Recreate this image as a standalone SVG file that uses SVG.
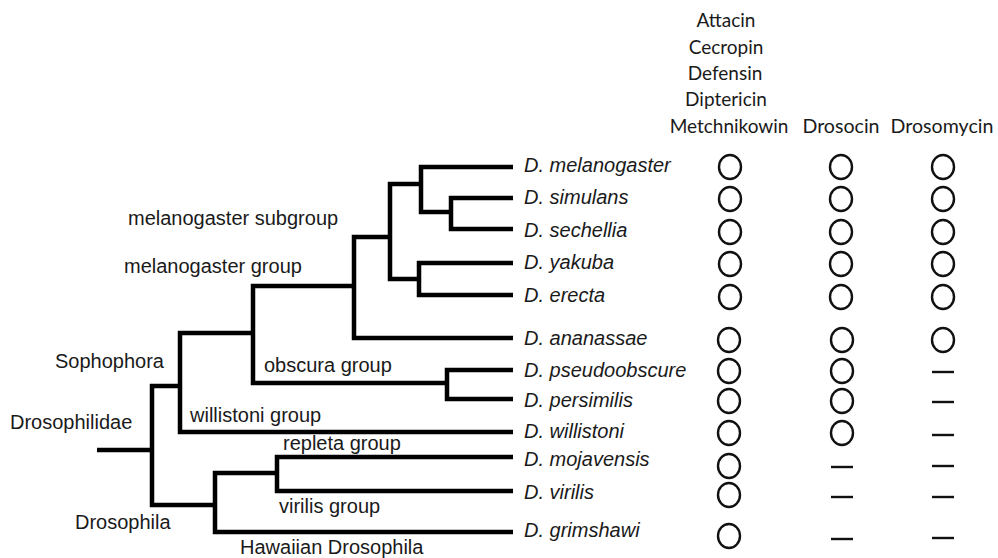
<svg xmlns="http://www.w3.org/2000/svg" width="998" height="558" viewBox="0 0 998 558">
<style>
.br{fill:none;stroke:#000;stroke-width:4.5;stroke-linejoin:miter;stroke-linecap:butt}
.lbl{font-family:"Liberation Sans",Arial,sans-serif;font-size:20px;fill:#1a1a1a}
.sp{font-family:"Liberation Sans",Arial,sans-serif;font-size:20px;font-style:italic;fill:#1a1a1a}
.hd{font-family:Lato,"Open Sans",sans-serif;font-size:19px;fill:#1a1a1a;text-anchor:middle}
.c{fill:none;stroke:#111;stroke-width:2.4}
.d{stroke:#111;stroke-width:2.4}
</style>
<rect width="998" height="558" fill="#fff"/>
<g id="header">
<text class="hd" x="726" y="27">Attacin</text>
<text class="hd" x="726" y="54">Cecropin</text>
<text class="hd" x="725" y="80">Defensin</text>
<text class="hd" x="726" y="106">Diptericin</text>
<text class="hd" x="729" y="133">Metchnikowin</text>
<text class="hd" x="841" y="133" style="font-size:19.6px">Drosocin</text>
<text class="hd" x="942" y="133" style="font-size:19.6px">Drosomycin</text>
</g>
<g id="connectors">
<path class="br" d="M97 450H152"/>
<path class="br" d="M180 386H152V505H215"/>
<path class="br" d="M253 333H180V432H513"/>
<path class="br" d="M354 286H253V383H447"/>
<path class="br" d="M513 370H447V399H513"/>
<path class="br" d="M390 237H354V338H513"/>
<path class="br" d="M421 184H390V279H419"/>
<path class="br" d="M513 167H421V212H451"/>
<path class="br" d="M513 198H451V229H513"/>
<path class="br" d="M513 263H419V295H513"/>
<path class="br" d="M277 473H215V532H513"/>
<path class="br" d="M513 457H277V491H513"/>
</g>
<g id="clades">
<text class="lbl" x="128" y="225">melanogaster subgroup</text>
<text class="lbl" x="124" y="273">melanogaster group</text>
<text class="lbl" x="55" y="368">Sophophora</text>
<text class="lbl" x="264" y="372">obscura group</text>
<text class="lbl" x="10" y="429">Drosophilidae</text>
<text class="lbl" x="190" y="422">willistoni group</text>
<text class="lbl" x="283" y="450">repleta group</text>
<text class="lbl" x="279" y="513">virilis group</text>
<text class="lbl" x="75" y="529">Drosophila</text>
<text class="lbl" x="240" y="554">Hawaiian Drosophila</text>
</g>
<g id="melanogaster"><text class="sp" x="524" y="172">D. melanogaster</text>
<ellipse class="c" cx="730" cy="167" rx="11" ry="12"/><ellipse class="c" cx="841" cy="167" rx="11" ry="12"/><ellipse class="c" cx="943" cy="167" rx="11" ry="12"/></g>
<g id="simulans"><text class="sp" x="524" y="204">D. simulans</text>
<ellipse class="c" cx="730" cy="199" rx="11" ry="12"/><ellipse class="c" cx="841" cy="199" rx="11" ry="12"/><ellipse class="c" cx="943" cy="199" rx="11" ry="12"/></g>
<g id="sechellia"><text class="sp" x="524" y="237">D. sechellia</text>
<ellipse class="c" cx="730" cy="232" rx="11" ry="12"/><ellipse class="c" cx="841" cy="232" rx="11" ry="12"/><ellipse class="c" cx="943" cy="232" rx="11" ry="12"/></g>
<g id="yakuba"><text class="sp" x="524" y="269">D. yakuba</text>
<ellipse class="c" cx="730" cy="264" rx="11" ry="12"/><ellipse class="c" cx="841" cy="264" rx="11" ry="12"/><ellipse class="c" cx="943" cy="264" rx="11" ry="12"/></g>
<g id="erecta"><text class="sp" x="524" y="302">D. erecta</text>
<ellipse class="c" cx="730" cy="297" rx="11" ry="12"/><ellipse class="c" cx="841" cy="297" rx="11" ry="12"/><ellipse class="c" cx="943" cy="297" rx="11" ry="12"/></g>
<g id="ananassae"><text class="sp" x="524" y="345">D. ananassae</text>
<ellipse class="c" cx="729" cy="340" rx="11" ry="12"/><ellipse class="c" cx="842" cy="340" rx="11" ry="12"/><ellipse class="c" cx="943" cy="340" rx="11" ry="12"/></g>
<g id="pseudoobscure"><text class="sp" x="524" y="377">D. pseudoobscure</text>
<ellipse class="c" cx="729" cy="371" rx="11" ry="12"/><ellipse class="c" cx="842" cy="371" rx="11" ry="12"/><line class="d" x1="932" y1="372" x2="954" y2="372"/></g>
<g id="persimilis"><text class="sp" x="524" y="407">D. persimilis</text>
<ellipse class="c" cx="729" cy="401" rx="11" ry="12"/><ellipse class="c" cx="842" cy="401" rx="11" ry="12"/><line class="d" x1="932" y1="402" x2="954" y2="402"/></g>
<g id="willistoni"><text class="sp" x="524" y="438">D. willistoni</text>
<ellipse class="c" cx="729" cy="433" rx="11" ry="12"/><ellipse class="c" cx="842" cy="433" rx="11" ry="12"/><line class="d" x1="932" y1="435" x2="954" y2="435"/></g>
<g id="mojavensis"><text class="sp" x="524" y="466">D. mojavensis</text>
<ellipse class="c" cx="729" cy="466" rx="11" ry="12"/><line class="d" x1="831" y1="467" x2="853" y2="467"/><line class="d" x1="932" y1="466" x2="954" y2="466"/></g>
<g id="virilis"><text class="sp" x="524" y="499">D. virilis</text>
<ellipse class="c" cx="729" cy="495" rx="11" ry="12"/><line class="d" x1="831" y1="497" x2="853" y2="497"/><line class="d" x1="932" y1="497" x2="954" y2="497"/></g>
<g id="grimshawi"><text class="sp" x="524" y="537">D. grimshawi</text>
<ellipse class="c" cx="729" cy="536" rx="11" ry="12"/><line class="d" x1="831" y1="539" x2="853" y2="539"/><line class="d" x1="932" y1="538" x2="954" y2="538"/></g>
</svg>
